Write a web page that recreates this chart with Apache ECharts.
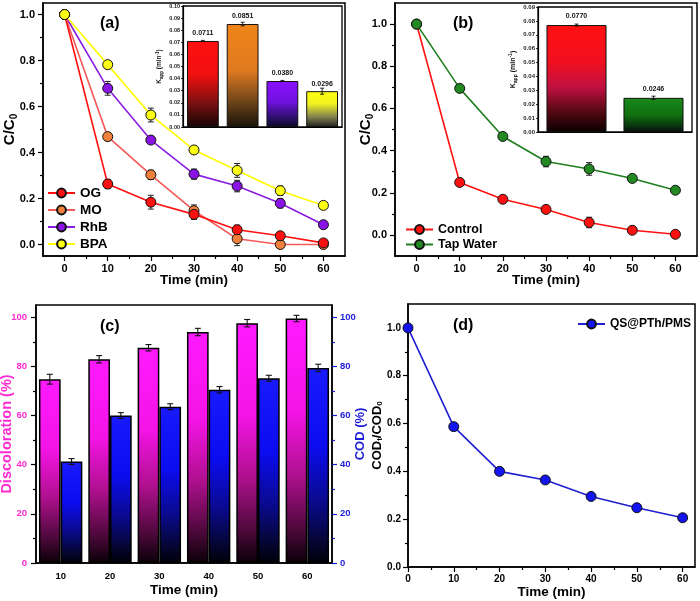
<!DOCTYPE html>
<html><head><meta charset="utf-8">
<script src="https://cdn.jsdelivr.net/npm/echarts@6/dist/echarts.min.js"></script>
<style>html,body{margin:0;padding:0;background:#fff}#c{width:700px;height:601px}</style>
</head><body><div id="c"></div>
<script>
// ---------- data ----------
const times = [0, 10, 20, 30, 40, 50, 60];
const ogC  = [1.0, 0.263, 0.184, 0.131, 0.064, 0.038, 0.007];
const ogErr = [0, 0.02, 0.03, 0.022, 0.02, 0.012, 0.008];
const moC  = [1.0, 0.469, 0.303, 0.147, 0.025, 0.0, 0.0];
const moErr = [0, 0.012, 0.02, 0.025, 0.03, 0.015, 0.01];
const rhbC = [1.0, 0.679, 0.454, 0.306, 0.254, 0.179, 0.086];
const rhbErr = [0, 0.03, 0.015, 0.022, 0.025, 0.02, 0.01];
const bpaC = [1.0, 0.782, 0.563, 0.411, 0.322, 0.234, 0.170];
const bpaErr = [0, 0.018, 0.03, 0.01, 0.03, 0.02, 0.012];

const insetACats = ['OG', 'MO', 'RhB', 'BPA'];
const kA = [0.0711, 0.0851, 0.0380, 0.0296];
const kAErr = [0.0005, 0.0015, 0.0005, 0.0025];

const controlC = [1.0, 0.249, 0.169, 0.121, 0.059, 0.022, 0.003];
const controlErr = [0, 0.01, 0.01, 0.015, 0.025, 0.01, 0.008];
const tapC = [1.0, 0.695, 0.467, 0.348, 0.313, 0.268, 0.212];
const tapErr = [0, 0.01, 0.01, 0.025, 0.03, 0.015, 0.01];

const insetBCats = ['Control', 'Tap Water'];
const kB = [0.0770, 0.0246];
const kBErr = [0.0007, 0.0012];

const cTimes = ['10', '20', '30', '40', '50', '60'];
const discol = [74.8, 82.9, 87.6, 94.0, 97.6, 99.5];
const discolErr = [2.0, 1.5, 1.3, 1.5, 1.5, 1.3];
const codPct = [41.3, 60.0, 63.6, 70.5, 75.2, 79.4];
const codPctErr = [1.2, 1.2, 1.2, 1.3, 1.2, 1.5];

const codRatio = [1.0, 0.587, 0.40, 0.364, 0.295, 0.248, 0.206];

// tick labels
const timeTicks = [0, 10, 20, 30, 40, 50, 60];
const timeMinor = [5, 15, 25, 35, 45, 55];
const ratioTicks = [0, 0.2, 0.4, 0.6, 0.8, 1.0];
const ratioMinor = [0.1, 0.3, 0.5, 0.7, 0.9];
const pctTicks = [0, 20, 40, 60, 80, 100];
const pctMinor = [10, 30, 50, 70, 90];

// ---------- styles ----------
const FF = 'Arial, "Liberation Sans", sans-serif';
const MAG = '#ff2ad4', BLU = '#1c1cd8';
function grad(stops) {
  return {type: 'linear', x: 0, y: 0, x2: 0, y2: 1,
    colorStops: stops.map(s => ({offset: s[0], color: s[1]}))};
}
const gradA = [
  grad([[0, '#ff1010'], [0.4, '#f01010'], [0.72, '#7a1010'], [1, '#160505']]),
  grad([[0, '#f08418'], [0.45, '#e07a20'], [0.78, '#644018'], [1, '#1a1208']]),
  grad([[0, '#8a10ff'], [0.45, '#7010e0'], [0.8, '#2c1068'], [1, '#0a0a28']]),
  grad([[0, '#ffff10'], [0.35, '#f2f220'], [0.72, '#808050'], [1, '#202020']])
];
const gradB = [
  grad([[0, '#ff1010'], [0.35, '#f01020'], [0.58, '#c01040'], [0.82, '#500810'], [1, '#0a0000']]),
  grad([[0, '#1a8a1a'], [0.5, '#107010'], [0.85, '#0a3010'], [1, '#050a0a']])
];
const gradPink = grad([[0, '#ff1aff'], [0.38, '#f414e6'], [0.64, '#b0108f'], [0.87, '#4a0838'], [1, '#0a0008']]);
const gradBlue = grad([[0, '#1a1aff'], [0.4, '#0c0cf0'], [0.68, '#0a0a90'], [0.9, '#050530'], [1, '#000008']]);

function boldText(size, color) { return {fontFamily: FF, fontWeight: 'bold', fontSize: size, color: color || '#000'}; }

function errBar(cap, color, lw) {
  return function (params, api) {
    const x = api.value(0), v = api.value(1), e = api.value(2), off = api.value(3) || 0;
    if (!e) return null;
    const band = off ? api.size([1, 0])[0] : 0;
    const t = api.coord([x, v + e]), b = api.coord([x, v - e]);
    const cx = t[0] + off * band;
    const st = {stroke: color, lineWidth: lw};
    return {type: 'group', children: [
      {type: 'line', shape: {x1: cx, y1: t[1], x2: cx, y2: b[1]}, style: st},
      {type: 'line', shape: {x1: cx - cap, y1: t[1], x2: cx + cap, y2: t[1]}, style: st},
      {type: 'line', shape: {x1: cx - cap, y1: b[1], x2: cx + cap, y2: b[1]}, style: st}
    ]};
  };
}

function valAxis(o) {
  const a = {
    gridIndex: o.grid, type: 'value', min: o.min, max: o.max, position: o.position,
    axisLine: {show: o.line !== false, onZero: false, lineStyle: {color: '#000', width: 1.5}},
    axisTick: {show: true, customValues: o.ticks, length: o.tickLen || 5, lineStyle: {color: o.tickColor || '#000', width: 1.2}},
    axisLabel: o.labels ? Object.assign({customValues: o.ticks, margin: o.margin || 7,
      formatter: o.fmt || (v => String(v))}, boldText(o.labelSize || 11, o.labelColor)) : {show: false},
    splitLine: {show: false}
  };
  if (o.name) {
    a.name = o.name; a.nameLocation = 'middle'; a.nameGap = o.nameGap;
    a.nameMoveOverlap = false;
    a.nameTextStyle = Object.assign(boldText(o.nameSize || 13.5, o.nameColor), o.rich ? {rich: o.rich} : {});
  }
  return a;
}
function subRich(size, lh) {
  return {
    n: {fontFamily: FF, fontWeight: 'bold', fontSize: size, color: '#000', lineHeight: lh, verticalAlign: 'middle'},
    s: {fontFamily: FF, fontWeight: 'bold', fontSize: Math.round(size * 0.65), color: '#000', lineHeight: 7, verticalAlign: 'bottom'}
  };
}
const f1 = v => v.toFixed(1);

const timeName = 'Time (min)';
function gridBox(l, t, w, h, bw, bg) {
  return {left: l, top: t, width: w, height: h, show: true, borderColor: '#000', borderWidth: bw,
    backgroundColor: bg, containLabel: false, outerBoundsMode: 'none'};
}

const option = {
  animation: false,
  backgroundColor: '#fff',
  grid: [
    gridBox(43, 3, 302, 253, 1.5, 'transparent'),
    gridBox(183, 6, 159, 121, 1.3, '#fff'),
    gridBox(395, 3, 302, 253, 1.5, 'transparent'),
    gridBox(538, 7, 154, 125, 1.3, '#fff'),
    gridBox(36, 305, 296, 258, 1.5, 'transparent'),
    gridBox(408, 304, 287, 263, 1.5, 'transparent')
  ],
  xAxis: [
    valAxis({grid: 0, min: -5, max: 65, position: 'bottom', ticks: timeTicks, labels: true, margin: 7, name: timeName, nameGap: 17}),
    valAxis({grid: 0, min: -5, max: 65, position: 'bottom', ticks: timeMinor, line: false, tickLen: 3}),
    {gridIndex: 1, type: 'category', data: insetACats, axisLine: {lineStyle: {color: '#000', width: 1.2}}, axisTick: {show: false}, axisLabel: {show: false}},
    valAxis({grid: 2, min: -5, max: 65, position: 'bottom', ticks: timeTicks, labels: true, margin: 7, name: timeName, nameGap: 17}),
    valAxis({grid: 2, min: -5, max: 65, position: 'bottom', ticks: timeMinor, line: false, tickLen: 3}),
    {gridIndex: 3, type: 'category', data: insetBCats, axisLine: {lineStyle: {color: '#000', width: 1.2}}, axisTick: {show: false}, axisLabel: {show: false}},
    {gridIndex: 4, type: 'category', data: cTimes, boundaryGap: true, position: 'bottom',
      axisLine: {lineStyle: {color: '#000', width: 1.5}},
      axisTick: {alignWithLabel: true, length: 5, lineStyle: {color: '#000', width: 1.2}},
      axisLabel: Object.assign({margin: 8}, boldText(9.5)),
      name: timeName, nameLocation: 'middle', nameGap: 20, nameMoveOverlap: false, nameTextStyle: boldText(13.5)},
    valAxis({grid: 5, min: 0, max: 62.7, position: 'bottom', ticks: timeTicks, labels: true, labelSize: 10, margin: 7, name: timeName, nameGap: 18}),
    valAxis({grid: 5, min: 0, max: 62.7, position: 'bottom', ticks: timeMinor, line: false, tickLen: 3})
  ],
  yAxis: [
    valAxis({grid: 0, min: -0.05, max: 1.05, position: 'left', ticks: ratioTicks, labels: true, margin: 8, fmt: f1,
      name: '{n|C/C}{s|0}', nameGap: 24, rich: subRich(15, 18)}),
    valAxis({grid: 0, min: -0.05, max: 1.05, position: 'left', ticks: ratioMinor, line: false, tickLen: 3}),
    {gridIndex: 1, type: 'value', min: 0, max: 0.1, interval: 0.01,
      axisLine: {show: true, lineStyle: {color: '#000', width: 1.2}},
      axisTick: {show: true, length: 2, lineStyle: {color: '#000', width: 0.8}},
      axisLabel: Object.assign({margin: 3, formatter: v => v.toFixed(2)}, boldText(5.5, '#222')),
      splitLine: {show: false},
      name: '{n|K}{s|app}{n| (min}{p|-1}{n|)}', nameLocation: 'middle', nameGap: 19, nameMoveOverlap: false,
      nameTextStyle: {rich: {
        n: {fontFamily: FF, fontWeight: 'bold', fontSize: 6.5, color: '#111', lineHeight: 9, verticalAlign: 'middle'},
        s: {fontFamily: FF, fontWeight: 'bold', fontSize: 4.5, color: '#111', lineHeight: 4, verticalAlign: 'bottom'},
        p: {fontFamily: FF, fontWeight: 'bold', fontSize: 4.5, color: '#111', lineHeight: 4, verticalAlign: 'top'}}}},
    valAxis({grid: 2, min: -0.1, max: 1.1, position: 'left', ticks: ratioTicks, labels: true, margin: 8, fmt: f1,
      name: '{n|C/C}{s|0}', nameGap: 20, rich: subRich(15, 18)}),
    valAxis({grid: 2, min: -0.1, max: 1.1, position: 'left', ticks: ratioMinor, line: false, tickLen: 3}),
    {gridIndex: 3, type: 'value', min: 0, max: 0.09, interval: 0.01,
      axisLine: {show: true, lineStyle: {color: '#000', width: 1.2}},
      axisTick: {show: true, length: 2, lineStyle: {color: '#000', width: 0.8}},
      axisLabel: Object.assign({margin: 3, formatter: v => v.toFixed(2)}, boldText(6, '#222')),
      splitLine: {show: false},
      name: '{n|K}{s|app}{n| (min}{p|-1}{n|)}', nameLocation: 'middle', nameGap: 20, nameMoveOverlap: false,
      nameTextStyle: {rich: {
        n: {fontFamily: FF, fontWeight: 'bold', fontSize: 7, color: '#111', lineHeight: 10, verticalAlign: 'middle'},
        s: {fontFamily: FF, fontWeight: 'bold', fontSize: 5, color: '#111', lineHeight: 4, verticalAlign: 'bottom'},
        p: {fontFamily: FF, fontWeight: 'bold', fontSize: 5, color: '#111', lineHeight: 4, verticalAlign: 'top'}}}},
    valAxis({grid: 4, min: 0, max: 105, position: 'left', ticks: pctTicks, labels: true, labelSize: 9.5, labelColor: MAG, margin: 9,
      name: 'Discoloration (%)', nameSize: 14.5, nameGap: 22, nameColor: MAG}),
    valAxis({grid: 4, min: 0, max: 105, position: 'right', ticks: pctTicks, labels: true, labelSize: 9.5, labelColor: BLU, tickColor: BLU, margin: 8,
      name: 'COD (%)', nameSize: 13, nameGap: 22, nameColor: BLU}),
    valAxis({grid: 4, min: 0, max: 105, position: 'left', ticks: pctMinor, line: false, tickLen: 3}),
    valAxis({grid: 4, min: 0, max: 105, position: 'right', ticks: pctMinor, line: false, tickLen: 3, tickColor: BLU}),
    valAxis({grid: 5, min: 0, max: 1.1, position: 'left', ticks: ratioTicks, labels: true, labelSize: 10, margin: 7, fmt: f1,
      name: '{n|COD}{s|t}{n|/COD}{s|0}', nameGap: 24, rich: subRich(13, 14)}),
    valAxis({grid: 5, min: 0, max: 1.1, position: 'left', ticks: ratioMinor, line: false, tickLen: 3})
  ],
  legend: [
    {left: 47, top: 186, orient: 'vertical', itemWidth: 27, itemHeight: 11, itemGap: 3,
      data: ['OG', 'MO', 'RhB', 'BPA'], textStyle: boldText(13.5), padding: 0},
    {left: 405, top: 223, orient: 'vertical', itemWidth: 27, itemHeight: 11, itemGap: 2,
      data: ['Control', 'Tap Water'], textStyle: boldText(12.5), padding: 0},
    {left: 577, top: 318, orient: 'vertical', itemWidth: 27, itemHeight: 11, itemGap: 3,
      data: ['QS@PTh/PMS'], textStyle: boldText(12), padding: 0}
  ],
  graphic: [
    {type: 'text', left: 100, top: 16, style: {text: '(a)', font: 'bold 16px ' + FF, fill: '#000'}},
    {type: 'text', left: 453, top: 16, style: {text: '(b)', font: 'bold 16px ' + FF, fill: '#000'}},
    {type: 'text', left: 100, top: 319, style: {text: '(c)', font: 'bold 16px ' + FF, fill: '#000'}},
    {type: 'text', left: 453, top: 318, style: {text: '(d)', font: 'bold 16px ' + FF, fill: '#000'}}
  ],
  series: []
};

function lineSeries(name, xi, yi, vals, lineColor, markColor, z) {
  return {name, type: 'line', xAxisIndex: xi, yAxisIndex: yi, z: z || 3,
    data: times.map((t, i) => [t, vals[i]]),
    symbol: 'circle', symbolSize: 10,
    lineStyle: {color: lineColor, width: 1.6},
    itemStyle: {color: markColor, borderColor: '#111', borderWidth: 1}};
}
function errSeries(xi, yi, vals, errs, color, z) {
  return {type: 'custom', xAxisIndex: xi, yAxisIndex: yi, z: z || 2, silent: true,
    renderItem: errBar(3, color || '#222', 1),
    data: times.map((t, i) => [t, vals[i], errs[i], 0])};
}

// panel (a)
option.series.push(
  errSeries(0, 0, ogC, ogErr), errSeries(0, 0, moC, moErr), errSeries(0, 0, rhbC, rhbErr), errSeries(0, 0, bpaC, bpaErr),
  lineSeries('OG', 0, 0, ogC, '#ff1010', '#ff1010', 6),
  lineSeries('MO', 0, 0, moC, '#f45a5a', '#f0803c', 5),
  lineSeries('RhB', 0, 0, rhbC, '#8a1ee0', '#8a14e6', 4),
  lineSeries('BPA', 0, 0, bpaC, '#ffff00', '#ffff14', 7)
);
// inset (a)
option.series.push(
  {type: 'bar', xAxisIndex: 2, yAxisIndex: 2, barCategoryGap: '20%',
    data: kA.map((v, i) => ({value: v, itemStyle: {color: gradA[i]}})),
    itemStyle: {borderColor: '#111', borderWidth: 1},
    label: {show: true, position: 'top', distance: 4, formatter: p => p.value.toFixed(4), fontFamily: FF, fontWeight: 'bold', fontSize: 7, color: '#111'}},
  {type: 'custom', xAxisIndex: 2, yAxisIndex: 2, z: 5, renderItem: errBar(2, '#111', 0.9),
    data: kA.map((v, i) => [i, v, kAErr[i], 0])}
);
// panel (b)
option.series.push(
  errSeries(3, 3, controlC, controlErr), errSeries(3, 3, tapC, tapErr),
  lineSeries('Control', 3, 3, controlC, '#ff1010', '#ff1010', 4),
  lineSeries('Tap Water', 3, 3, tapC, '#1f7f1f', '#238a23', 5)
);
// inset (b)
option.series.push(
  {type: 'bar', xAxisIndex: 5, yAxisIndex: 5, barCategoryGap: '22%',
    data: kB.map((v, i) => ({value: v, itemStyle: {color: gradB[i]}})),
    itemStyle: {borderColor: '#111', borderWidth: 1},
    label: {show: true, position: 'top', distance: 5, formatter: p => p.value.toFixed(4), fontFamily: FF, fontWeight: 'bold', fontSize: 7, color: '#111'}},
  {type: 'custom', xAxisIndex: 5, yAxisIndex: 5, z: 5, renderItem: errBar(2, '#111', 0.9),
    data: kB.map((v, i) => [i, v, kBErr[i], 0])}
);
// panel (c)
option.series.push(
  {type: 'bar', name: 'Discoloration', xAxisIndex: 6, yAxisIndex: 6, barGap: '0%', barCategoryGap: '12%',
    data: discol, itemStyle: {color: gradPink, borderColor: '#000', borderWidth: 1.5}},
  {type: 'bar', name: 'COD', xAxisIndex: 6, yAxisIndex: 7, barGap: '0%', barCategoryGap: '12%',
    data: codPct, itemStyle: {color: gradBlue, borderColor: '#000', borderWidth: 1.5}},
  {type: 'custom', xAxisIndex: 6, yAxisIndex: 6, z: 6, renderItem: errBar(3, '#111', 1.1),
    data: discol.map((v, i) => [i, v, discolErr[i], -0.22])},
  {type: 'custom', xAxisIndex: 6, yAxisIndex: 7, z: 6, renderItem: errBar(3, '#111', 1.1),
    data: codPct.map((v, i) => [i, v, codPctErr[i], 0.22])}
);
// panel (d)
option.series.push(
  lineSeries('QS@PTh/PMS', 7, 10, codRatio, '#1f1fd0', '#1414ee', 4)
);

const chart = echarts.init(document.getElementById('c'), null, {renderer: 'canvas'});
chart.setOption(option);
</script>
</body></html>
